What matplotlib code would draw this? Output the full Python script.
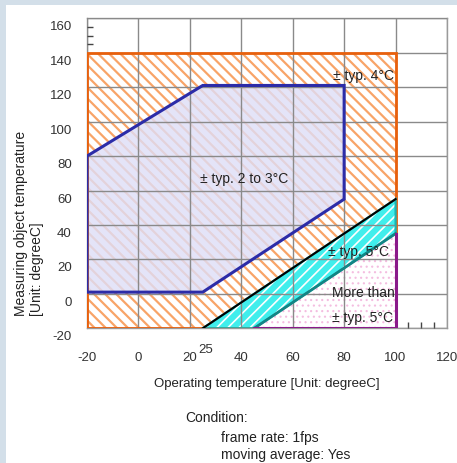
import matplotlib
matplotlib.use("Agg")
import matplotlib.pyplot as plt
import matplotlib.transforms as mtransforms
from matplotlib.patches import Polygon, Rectangle

# accuracy map: operating temperature (x) vs measuring object temperature (y)
x_ticks = [-20, 0, 20, 40, 60, 80, 100, 120]
y_ticks = [-20, 0, 20, 40, 60, 80, 100, 120, 140, 160]
x_minor = [105, 110, 115]
y_minor = [145, 150, 155]

range_4c = [(-20, -20), (-20, 140), (100, 140), (100, -20)]
range_2to3c = [(-20, 1), (-20, 80), (25, 121), (80, 121), (80, 55), (25, 1)]
range_5c = [(25, -20), (100, 55), (100, 35), (45, -20)]
range_over5c = [(45, -20), (100, 35), (100, -20)]
black_line_x = [25, 100]
black_line_y = [-20, 55]

labels = [
    ("± typ. 4°C", 99.5, 127, "right"),
    ("± typ. 2 to 3°C", 41, 67, "center"),
    ("± typ. 5°C", 97.5, 25, "right"),
    ("More than", 99.5, 1, "right"),
    ("± typ. 5°C", 99, -13.5, "right"),
]

plt.rcParams["font.family"] = ["Liberation Sans", "DejaVu Sans"]
plt.rcParams["axes.unicode_minus"] = False
plt.rcParams["hatch.linewidth"] = 1.6

fig = plt.figure(figsize=(4.57, 4.64), dpi=100, facecolor="#d3dfe9")
fig.patches.append(Rectangle((6 / 457, 0), 1, 1 - 6 / 464, transform=fig.transFigure,
                             facecolor="white", edgecolor="none", zorder=-5))
ax = fig.add_axes([87 / 457, 1 - 329.3 / 464, 360 / 457, 310 / 464])
ax.set_facecolor("none")
ax.set_zorder(2)
ax.set_xlim(-20, 120)
ax.set_ylim(-20, 160)

# fills
ax.add_patch(Polygon(range_4c, closed=True, facecolor="white", edgecolor="#f8a468",
                     hatch="\\\\\\", linewidth=0, zorder=1))
ax.add_patch(Polygon(range_2to3c, closed=True, facecolor=(0.87, 0.87, 0.97, 0.8),
                     edgecolor="none", zorder=1.1))
plt.rcParams["hatch.linewidth"] = 1.2
ax.add_patch(Polygon(range_5c, closed=True, facecolor="#40eeec", edgecolor="white",
                     hatch="///", linewidth=0, zorder=1.2))
plt.rcParams["hatch.linewidth"] = 0.8
ax.add_patch(Polygon(range_over5c, closed=True, facecolor="white", edgecolor="#f4bde0",
                     hatch="...", linewidth=0, zorder=1.2))

# outlines
ax.add_patch(Polygon(range_4c, closed=True, fill=False, edgecolor="#e8600c",
                     linewidth=2, zorder=3))
ax.add_patch(Polygon(range_2to3c, closed=True, fill=False, edgecolor="#2c2ca8",
                     linewidth=2.2, zorder=3.2))
ax.add_patch(Polygon(range_5c, closed=True, fill=False, edgecolor="#19b5b5",
                     linewidth=1.6, zorder=3.1))
ax.plot(black_line_x, black_line_y, color="black", linewidth=1.5, zorder=3.3)
ax.plot([p[0] for p in range_over5c[:2]], [p[1] for p in range_over5c[:2]],
        color="#138585", linewidth=2, zorder=3.3)
ax.plot([range_over5c[1][0], range_over5c[2][0], range_over5c[0][0]],
        [range_over5c[1][1], range_over5c[2][1], range_over5c[0][1]],
        color="#8a1a8a", linewidth=2.2, zorder=3.4)

# grid and axes
ax.set_axisbelow(False)
ax.set_xticks(x_ticks)
ax.set_yticks(y_ticks)
ax.set_xticks(x_minor, minor=True)
ax.set_yticks(y_minor, minor=True)
ax.grid(True, which="major", color="#8a8a8a", linewidth=1)
for s in ax.spines.values():
    s.set_color("#9a9a9a")
    s.set_linewidth(1)
ax.tick_params(which="major", length=0, labelsize=9.5, colors="#333333")
ax.tick_params(axis="x", which="major", pad=16)
ax.tick_params(axis="y", which="major", pad=11)
ax.tick_params(which="minor", direction="in", length=4, color="#444444", width=1)
shift = mtransforms.ScaledTranslation(0, -6.5 / 100, fig.dpi_scale_trans)
for lab in ax.get_yticklabels():
    lab.set_transform(lab.get_transform() + shift)
ax.annotate("25", xy=(25, -20), xytext=(2, -15), textcoords="offset points",
            ha="center", va="center", fontsize=9.5, color="#333333",
            annotation_clip=False)

for text, x, y, ha in labels:
    ax.text(x, y, text, ha=ha, va="center", fontsize=10, color="#222222", zorder=5)

ax.set_xlabel("Operating temperature [Unit: degreeC]", fontsize=9.5, color="#222222")
ax.xaxis.set_label_coords(0.5, -0.176)
ax.xaxis.label.set_va("center")

fig.text(29 / 457, 1 - 316 / 464, "Measuring object temperature\n[Unit: degreeC]",
         rotation=90, ha="center", va="bottom", multialignment="left",
         fontsize=10, color="#222222", linespacing=1.1)

fig.text(185 / 457, 1 - 418 / 464, "Condition:", ha="left", va="center", fontsize=10,
         color="#222222")
fig.text(221 / 457, 1 - 438 / 464, "frame rate: 1fps", ha="left", va="center",
         fontsize=10, color="#222222")
fig.text(221 / 457, 1 - 455 / 464, "moving average: Yes", ha="left", va="center",
         fontsize=10, color="#222222")

fig.savefig("out.png", dpi=100, facecolor=fig.get_facecolor())
